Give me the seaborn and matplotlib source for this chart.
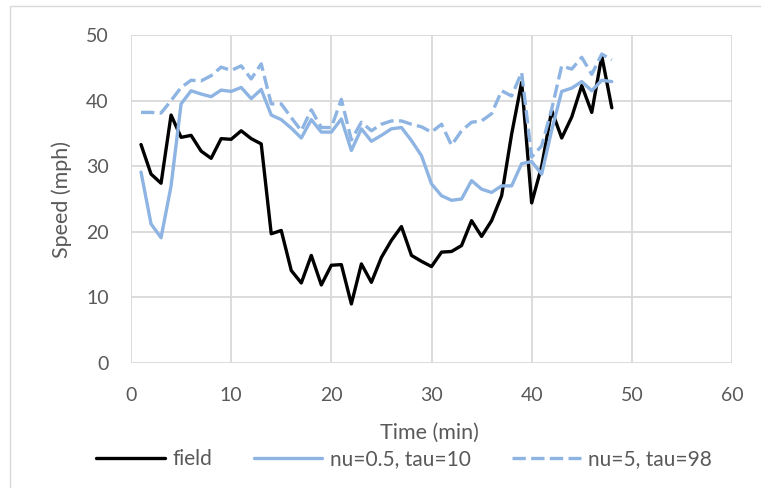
import numpy as np
import pandas as pd
import matplotlib
matplotlib.use("Agg")
import matplotlib.pyplot as plt
import seaborn as sns

minutes = list(range(1, 49))

field = [33.3, 28.8, 27.4, 37.8, 34.4, 34.7, 32.3, 31.2, 34.2, 34.1,
         35.4, 34.2, 33.4, 19.7, 20.2, 14.1, 12.2, 16.4, 11.9, 14.9,
         15.0, 9.0, 15.1, 12.3, 16.1, 18.7, 20.8, 16.4, 15.5, 14.7,
         16.9, 17.0, 17.9, 21.7, 19.3, 21.7, 25.5, 34.9, 42.8, 24.4,
         30.0, 38.5, 34.3, 37.5, 42.3, 38.2, 46.8, 38.9]

nu05_tau10 = [29.1, 21.2, 19.1, 27.0, 39.5, 41.5, 41.0, 40.6, 41.6, 41.4,
              42.0, 40.3, 41.7, 37.8, 37.1, 35.8, 34.3, 37.1, 35.2, 35.2,
              37.2, 32.4, 35.7, 33.8, 34.7, 35.7, 35.9, 33.9, 31.6, 27.3,
              25.5, 24.8, 25.0, 27.8, 26.5, 26.0, 27.0, 27.0, 30.4, 30.7,
              28.8, 35.5, 41.4, 41.9, 42.9, 41.5, 43.1, 42.9]

nu5_tau98 = [38.2, 38.2, 38.1, 40.0, 42.0, 43.1, 43.0, 43.8, 45.1, 44.6,
             45.3, 43.3, 45.6, 39.5, 39.5, 37.4, 35.4, 38.6, 35.9, 35.9,
             40.2, 34.0, 36.7, 35.4, 36.4, 36.9, 36.9, 36.4, 36.0, 35.2,
             36.4, 33.2, 35.4, 36.7, 36.9, 38.0, 41.5, 40.7, 44.3, 31.4,
             33.1, 38.7, 45.3, 44.8, 46.6, 44.0, 47.1, 46.2]

series_names = ["field", "nu=0.5, tau=10", "nu=5, tau=98"]

df = pd.DataFrame({
    "Time (min)": minutes * 3,
    "Speed (mph)": field + nu05_tau10 + nu5_tau98,
    "series": [series_names[0]] * 48 + [series_names[1]] * 48 + [series_names[2]] * 48,
})

sns.set_theme(style="white")
plt.rcParams["font.family"] = ["Lato", "DejaVu Sans"]

grey_text = "#595959"
blue = "#8db4e2"

W, H = 761, 488
fig = plt.figure(figsize=(W / 100, H / 100), dpi=100)
ax = fig.add_axes([131 / W, 1 - 363 / H, (732 - 131) / W, (363 - 35) / H])

sns.lineplot(data=df, x="Time (min)", y="Speed (mph)", hue="series", style="series",
             palette={series_names[0]: "black", series_names[1]: blue, series_names[2]: blue},
             dashes={series_names[0]: "", series_names[1]: "", series_names[2]: (4, 1.6)},
             linewidth=2.4, ax=ax, legend=True)

ax.set_xlim(0, 60)
ax.set_ylim(0, 50)
ax.set_xticks(range(0, 61, 10))
ax.set_yticks(range(0, 51, 10))
ax.grid(True, color="#d9d9d9", linewidth=1.3)
for s in ax.spines.values():
    s.set_visible(False)
ax.tick_params(axis="x", length=0, labelsize=14, colors=grey_text, pad=17)
ax.tick_params(axis="y", length=0, labelsize=14, colors=grey_text, pad=16)

ax.set_xlabel("Time (min)", fontsize=15.5, color=grey_text)
ax.set_ylabel("Speed (mph)", fontsize=15.5, color=grey_text)
ax.xaxis.set_label_coords(0.497, (363 - 433) / 328)
ax.xaxis.label.set_va("center")
ax.yaxis.set_label_coords((62 - 131) / 601, 0.5)
ax.yaxis.label.set_va("center")

handles, labels = ax.get_legend_handles_labels()
leg = ax.legend(handles, labels, loc="center", bbox_to_anchor=((404 - 131) / 601, (363 - 459) / 328),
                ncol=3, frameon=False, fontsize=15, handlelength=3.3,
                columnspacing=2.0, handletextpad=0.35)
for t in leg.get_texts():
    t.set_color(grey_text)

fig.patches.append(plt.Rectangle((10 / W, -0.1), 1.2, 1.1 - 6 / H,
                                 transform=fig.transFigure, fill=False,
                                 edgecolor="#d9d9d9", linewidth=1))

fig.savefig("out.png", dpi=100)
